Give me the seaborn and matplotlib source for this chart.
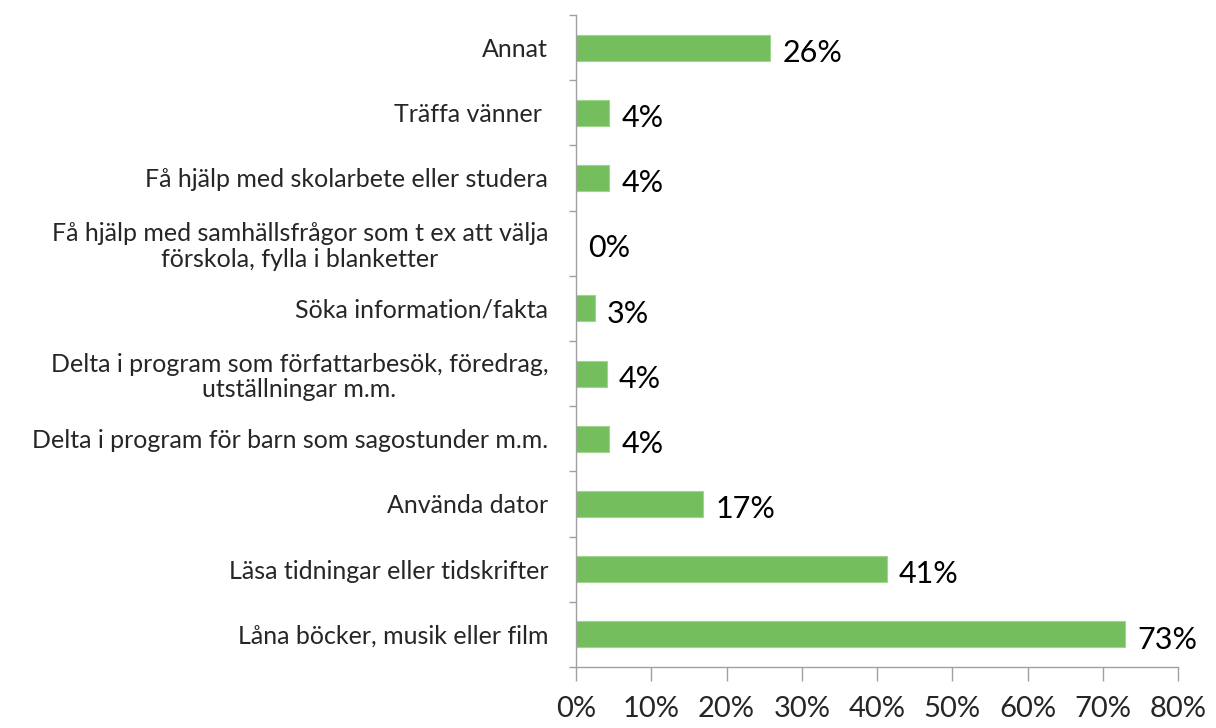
import seaborn as sns
import pandas as pd
import numpy as np
from matplotlib import pyplot as plt
from matplotlib.ticker import FixedLocator

categories = [
    "Annat",
    "Träffa vänner ",
    "Få hjälp med skolarbete eller studera",
    "Få hjälp med samhällsfrågor som t ex att välja\nförskola, fylla i blanketter",
    "Söka information/fakta",
    "Delta i program som författarbesök, föredrag,\nutställningar m.m.",
    "Delta i program för barn som sagostunder m.m.",
    "Använda dator",
    "Läsa tidningar eller tidskrifter",
    "Låna böcker, musik eller film",
]
values = [25.8, 4.4, 4.4, 0.0, 2.5, 4.1, 4.4, 16.9, 41.3, 73.0]
value_labels = ["26%", "4%", "4%", "0%", "3%", "4%", "4%", "17%", "41%", "73%"]
x_ticks = [0, 10, 20, 30, 40, 50, 60, 70, 80]

sns.set_style("white")
plt.rcParams['font.family'] = ['Lato', 'DejaVu Sans']

df = pd.DataFrame({"kategori": categories, "andel": values})

fig = plt.figure(figsize=(12.16, 7.28), dpi=100)
ax = fig.add_axes([0.4737, 0.0838, 0.4951, 0.8956])
sns.barplot(data=df, x="andel", y="kategori", color="#74BE5E", width=0.4,
            edgecolor="#9FD58C", linewidth=0.8, saturation=1, ax=ax)

ax.set_xlim(0, 80)
ax.set_ylim(len(categories) - 0.5, -0.5)
ax.set_xticks(x_ticks)
ax.set_xticklabels([f"{t}%" for t in x_ticks], fontsize=21)
ax.set_yticks(range(len(categories)))
ax.set_yticklabels(categories, fontsize=18, ha="right", multialignment="center",
                   linespacing=1.15)
ax.tick_params(axis="y", which="major", length=0, pad=20, left=False)
ax.yaxis.set_minor_locator(FixedLocator(np.arange(-0.5, len(categories), 1)))
ax.tick_params(axis="y", which="minor", length=5, color="#A0A0A0", width=1,
               direction="out", left=True)
ax.tick_params(axis="x", length=10, color="#A0A0A0", width=1, direction="out",
               pad=11, bottom=True)
ax.set_xlabel("")
ax.set_ylabel("")

for s in ["top", "right"]:
    ax.spines[s].set_visible(False)
for s in ["left", "bottom"]:
    ax.spines[s].set_color("#A0A0A0")
    ax.spines[s].set_linewidth(1)

for i, (v, lab) in enumerate(zip(values, value_labels)):
    ax.text(v + 1.6, i + 0.08, lab, va="center", ha="left", fontsize=22, color="black")

fig.savefig("out.png", dpi=100)
